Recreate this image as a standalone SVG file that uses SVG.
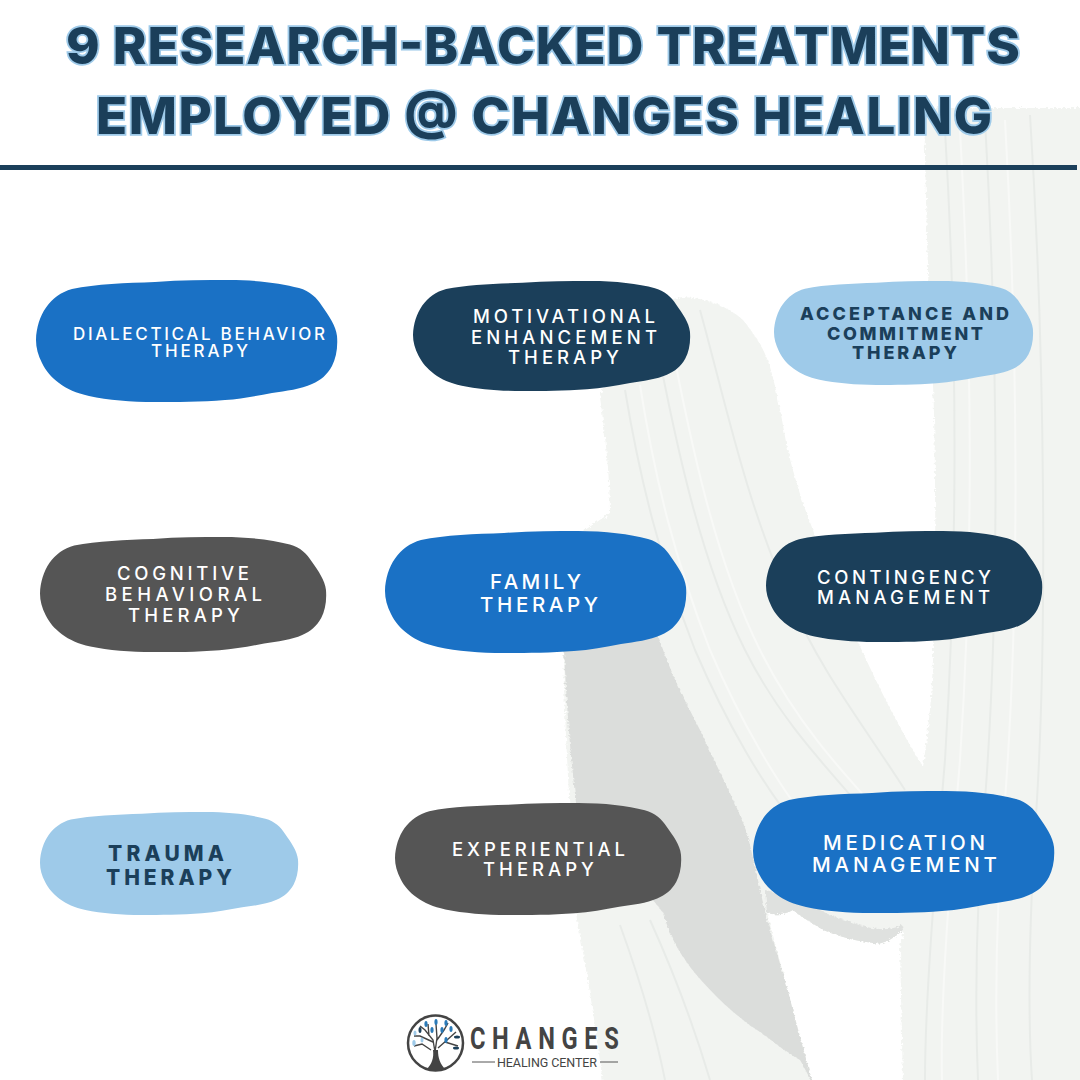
<svg xmlns="http://www.w3.org/2000/svg" width="1080" height="1080" viewBox="0 0 1080 1080">
<style>
text{font-family:"Inter","Open Sans","Liberation Sans",sans-serif}
.t{font-size:51px;font-weight:800;fill:#1b3f5a;stroke:#9ecae9;stroke-width:3.5px;paint-order:stroke}
.l{font-size:18.5px;font-weight:500;fill:#fff}
.d{font-size:18px;font-weight:800;fill:#1b3f5a}
.blue{fill:#1a71c5}.navy{fill:#1b3f5a}.gray{fill:#555}.light{fill:#9ecae9}
.rib{fill:none;stroke:#e8ebe8;stroke-width:2}
.rib2{fill:none;stroke:#f8f9f7;stroke-width:2}
.lf{fill:#2a7ab8}.lf2{fill:#1b3f5a}.lf3{fill:#9ecae9}
</style>
<defs>
<path id="blob" d="M0,60C1,35 14,15 36,9C60,4 90,3 119,2C145,0 170,0 193,0C220,0 245,3 263,8C274,11 281,18 286,26C293,36 300,46 301,56C302,68 300,78 296,86C291,95 285,100 276,104C265,109 250,111 236,113C220,116 205,119 189,120C165,122 140,122 119,122C95,122 72,120 53,116C40,113 31,109 23,103C15,97 10,91 6,83C2,75 0,68 0,60Z"/>
<filter id="fuzz" x="-5%" y="-5%" width="110%" height="110%"><feTurbulence type="fractalNoise" baseFrequency=".35" numOctaves="2" seed="3"/><feDisplacementMap in="SourceGraphic" scale="5"/><feGaussianBlur stdDeviation=".7"/></filter>
</defs>
<rect width="1080" height="1080" fill="#fff"/>
<g id="background">
<g filter="url(#fuzz)">
<path d="M924,108H1084V1084H903L900,947C905,935 915,860 923,767C930,720 933,680 933,650C936,600 936,450 933,385C928,300 926,200 924,108Z" fill="#f2f4f1"/>
<path d="M683,297C705,298 728,306 743,320C755,335 765,350 770,367C778,395 782,420 787,447C795,480 803,505 813,530C825,570 842,610 857,640C880,690 900,730 923,767L925,930L903,930C890,942 880,945 873,943C850,940 835,935 823,930C810,922 800,916 793,910C785,915 775,915 767,913L813,1084H603C595,1020 585,960 577,920C572,860 565,730 563,653C568,610 575,560 585,530L610,513C610,480 606,440 600,397C615,350 650,300 683,297Z" fill="#f2f4f1"/>
<path d="M563,625C590,620 630,620 655,625C668,670 685,700 700,730C718,770 735,800 747,833C755,865 760,890 767,920C775,945 780,965 787,987C795,1020 805,1055 813,1084C808,1075 803,1065 800,1060C785,1052 772,1040 757,1030C742,1020 730,1010 717,997C705,985 693,972 683,957C675,945 668,930 663,913C650,895 640,885 625,880L585,860C575,810 567,730 563,625Z" fill="#dbdddb"/>
<path d="M767,913C775,915 785,915 793,910C800,916 810,922 823,930C835,935 850,940 873,943C880,945 890,942 903,930L902,925C880,935 860,925 830,915C810,905 790,895 765,890Z" fill="#dfe1df"/>
</g>
<path class="rib" d="M625,390C640,480 660,560 695,650C725,720 765,790 800,830M655,335C675,440 700,560 745,650C785,730 840,780 880,830M700,310C725,400 745,500 790,600C820,670 860,720 905,790M620,925C640,980 655,1030 665,1080M650,920C675,975 695,1030 710,1080M945,130C958,350 958,550 945,760C935,880 925,1000 925,1080M985,120C998,350 1000,600 985,800C975,920 975,1010 978,1080M1030,115C1045,350 1048,650 1035,830C1028,950 1028,1020 1032,1080"/>
<path class="rib2" d="M640,385C655,480 675,560 710,650C740,720 780,790 815,830M670,335C690,440 715,560 760,650C800,730 850,780 895,830M960,130C972,350 974,550 960,760C950,880 940,1000 942,1080M1005,120C1018,350 1020,600 1005,800C995,920 995,1010 998,1080"/>
</g>
<g id="title">
<text class="t" x="66" y="64" textLength="954">9 RESEARCH-BACKED TREATMENTS</text>
<text class="t" x="96" y="134" textLength="896">EMPLOYED @ CHANGES HEALING</text>
<rect x="0" y="165" width="1077" height="5" fill="#1b3f5a"/>
</g>
<g id="node-dbt"><use href="#blob" class="blue" transform="translate(36 280)"/>
<text class="l" style="font-size:17px" x="73" y="340" textLength="252">DIALECTICAL BEHAVIOR</text>
<text class="l" style="font-size:17px" x="151" y="357" textLength="97">THERAPY</text></g>
<g id="node-met"><use href="#blob" class="navy" transform="translate(413 281) scale(.92 .902)"/>
<text class="l" x="473" y="323" textLength="182">MOTIVATIONAL</text>
<text class="l" x="471" y="344" textLength="186">ENHANCEMENT</text>
<text class="l" x="508" y="364" textLength="111">THERAPY</text></g>
<g id="node-act"><use href="#blob" class="light" transform="translate(774 281) scale(.86 .852)"/>
<text class="d" x="800" y="320" textLength="209">ACCEPTANCE AND</text>
<text class="d" x="827" y="340" textLength="156">COMMITMENT</text>
<text class="d" x="852" y="359" textLength="105">THERAPY</text></g>
<g id="node-cbt"><use href="#blob" class="gray" transform="translate(40 537) scale(.95 .943)"/>
<text class="l" x="117" y="580" textLength="132">COGNITIVE</text>
<text class="l" x="105" y="601" textLength="157">BEHAVIORAL</text>
<text class="l" x="128" y="622" textLength="112">THERAPY</text></g>
<g id="node-family"><use href="#blob" class="blue" transform="translate(385 531)"/>
<text class="l" style="font-size:20.5px" x="490" y="589" textLength="91">FAMILY</text>
<text class="l" style="font-size:20.5px" x="480" y="612" textLength="118">THERAPY</text></g>
<g id="node-cm"><use href="#blob" class="navy" transform="translate(766 531) scale(.917 .91)"/>
<text class="l" x="817" y="584" textLength="174">CONTINGENCY</text>
<text class="l" x="817" y="604" textLength="173">MANAGEMENT</text></g>
<g id="node-trauma"><use href="#blob" class="light" transform="translate(40 812) scale(.857 .844)"/>
<text class="d" style="font-size:21px" x="108" y="861" textLength="116">TRAUMA</text>
<text class="d" style="font-size:21px" x="106" y="885" textLength="126">THERAPY</text></g>
<g id="node-exp"><use href="#blob" class="gray" transform="translate(395 803) scale(.95 .918)"/>
<text class="l" x="452" y="856" textLength="173">EXPERIENTIAL</text>
<text class="l" x="483" y="876" textLength="111">THERAPY</text></g>
<g id="node-med"><use href="#blob" class="blue" transform="translate(753 791)"/>
<text class="l" style="font-size:20.5px" x="823" y="850" textLength="162">MEDICATION</text>
<text class="l" style="font-size:20.5px" x="812" y="872" textLength="185">MANAGEMENT</text></g>
<g id="logo">
<circle cx="435.500" cy="1043" r="27.500" fill="#fff" stroke="#444" stroke-width="2.500"/>
<path d="M426,1070C432,1064 434,1058 433,1050L438,1050C438,1058 440,1064 446,1070Z" fill="#444"/>
<path d="M435,1052L433,1040L425,1030L420,1026M433,1042L420,1036L414,1036M429,1036L428,1024M435,1052L437,1038L436,1024M437,1040L444,1030L448,1023M438,1048L447,1040L456,1032M445,1042L458,1046M431,1050L422,1044L414,1046" stroke="#444" stroke-width="1.400" fill="none"/>
<g class="lf"><ellipse cx="426" cy="1024" rx="1.600" ry="3"/><ellipse cx="436" cy="1022" rx="1.600" ry="3"/><ellipse cx="446" cy="1023" rx="1.600" ry="3"/><ellipse cx="451" cy="1029" rx="1.600" ry="3"/><ellipse cx="442" cy="1030" rx="1.600" ry="3"/><ellipse cx="432" cy="1030" rx="1.600" ry="3"/><ellipse cx="446" cy="1040" rx="1.600" ry="3"/></g>
<g class="lf2"><ellipse cx="457" cy="1037" rx="3" ry="1.500"/><ellipse cx="456" cy="1048" rx="3" ry="1.500"/><ellipse cx="420" cy="1030" rx="1.500" ry="3"/></g>
<g class="lf3"><ellipse cx="414" cy="1043" rx="1.700" ry="3"/><ellipse cx="422" cy="1040" rx="1.500" ry="2.500"/><ellipse cx="415" cy="1033" rx="1.500" ry="2.500"/></g>
<text transform="translate(470 1049) scale(.74 1)" x="0" y="0" textLength="201" style="font-family:'Roboto','Liberation Sans',sans-serif;font-size:32px;font-weight:700;fill:#444">CHANGES</text>
<text x="497" y="1067" textLength="100" style="font-family:'Roboto','Liberation Sans',sans-serif;font-size:12.500px;font-weight:400;fill:#444">HEALING CENTER</text>
<path d="M472,1062H495M600,1062H618" stroke="#555" stroke-width="1"/>
</g>
</svg>
